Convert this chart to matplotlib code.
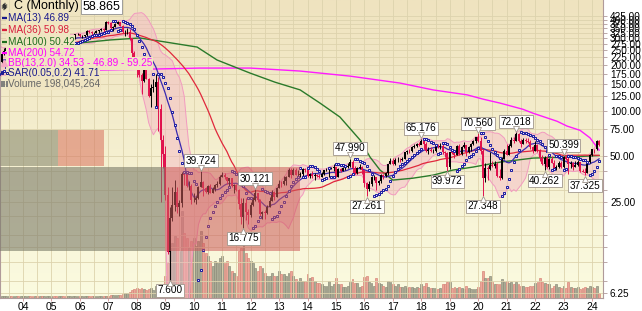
import matplotlib
matplotlib.use("Agg")
import matplotlib.pyplot as plt
import matplotlib.transforms as mtransforms
from matplotlib.colors import LinearSegmentedColormap
from matplotlib.patches import Rectangle
import numpy as np
import pandas as pd

plt.rcParams.update({
    "font.family": "Liberation Sans",
    "font.size": 7,
})

# monthly bars, first entry = Jan 2002 (extra months only feed the moving averages)
START_YEAR = 2002
close = [
    277, 264, 290, 254, 253, 228, 197, 193, 175, 218, 230, 211,  # 2002
    207, 200, 208, 237, 249, 260, 273, 265, 279, 291, 289, 299,  # 2003
    305, 311, 322, 300, 290, 292, 277, 294, 279, 281, 284, 307,  # 2004
    313, 306, 289, 303, 305, 300, 284, 286, 298, 301, 320, 321,  # 2005
    309, 309, 316, 336, 332, 326, 327, 335, 339, 344, 341, 384,  # 2006
    381, 350, 358, 375, 383, 362, 330, 333, 333, 300, 239, 212,  # 2007
    204, 173, 157, 186, 162, 125, 140, 143, 155, 103, 64, 52,  # 2008
    27.5, 11.6, 19.6, 23.6, 28.8, 23.0, 24.5, 37.8, 37.5, 31.7, 31.8, 25.6,  # 2009
    25.7, 26.3, 31.3, 33.8, 30.7, 29.1, 31.7, 28.7, 30.2, 32.3, 32.5, 36.6,  # 2010
    37.4, 36.3, 34.3, 35.6, 31.9, 32.2, 29.7, 24.0, 19.8, 24.5, 21.3, 20.4,  # 2011
    23.8, 25.8, 28.3, 25.6, 20.6, 21.3, 21.0, 23.0, 25.4, 29.0, 26.9, 30.7,  # 2012
    32.8, 32.6, 34.3, 36.3, 40.4, 37.3, 40.5, 37.5, 37.7, 37.9, 41.1, 40.5,  # 2013
    36.9, 37.8, 37.0, 37.3, 37.0, 36.6, 38.0, 40.2, 40.3, 41.6, 42.0, 42.1,  # 2014
    36.6, 40.8, 40.1, 41.5, 42.1, 43.0, 45.6, 41.7, 38.6, 41.4, 42.1, 40.4,  # 2015
    33.3, 30.4, 32.7, 36.2, 36.5, 33.2, 34.3, 37.5, 37.0, 38.6, 44.3, 46.7,  # 2016
    44.1, 47.3, 47.3, 46.8, 47.9, 53.0, 54.3, 54.0, 57.8, 58.5, 60.2, 59.4,  # 2017
    62.9, 60.5, 54.2, 54.9, 53.7, 53.9, 58.1, 57.7, 58.1, 53.2, 52.7, 42.5,  # 2018
    52.9, 52.6, 51.1, 58.2, 51.3, 57.8, 58.9, 53.4, 57.4, 59.9, 62.7, 66.9,  # 2019
    62.9, 53.8, 35.8, 41.4, 40.9, 43.8, 42.9, 44.0, 37.2, 35.8, 47.8, 53.7,  # 2020
    51.1, 58.1, 64.3, 63.0, 69.8, 62.9, 60.2, 64.1, 62.7, 62.0, 57.2, 54.4,  # 2021
    59.0, 53.8, 48.6, 44.0, 48.9, 42.2, 47.7, 45.0, 41.2, 42.6, 45.1, 42.2,  # 2022
    49.4, 48.1, 44.6, 44.8, 42.2, 43.9, 45.6, 39.6, 39.4, 38.8, 45.4, 50.8,  # 2023
    55.7, 55.3, 63.0, 58.865,  # 2024
]
high = [
    300, 282, 294, 292, 262, 255, 230, 210, 200, 225, 240, 235,
    230, 212, 215, 240, 258, 268, 280, 278, 285, 295, 293, 303,
    312, 318, 326, 322, 302, 297, 293, 296, 296, 288, 290, 309,
    316, 316, 308, 306, 310, 308, 305, 290, 300, 305, 322, 326,
    323, 316, 318, 340, 342, 337, 333, 339, 342, 352, 350, 390,
    393, 385, 364, 381, 390, 387, 370, 342, 350, 345, 302, 248,
    217, 211, 176, 198, 192, 164, 150, 162, 174, 167, 110, 69,
    58, 31, 23.2, 31, 34.8, 31, 25.5, 39.0, 38.7, 38.5, 34, 32.5,
    28.6, 27.1, 31.7, 39.72, 34.1, 31.3, 32.1, 32.5, 31.0, 32.9, 34.4, 37.5,
    39.0, 38.9, 36.4, 36.0, 35.7, 32.6, 32.9, 30.2, 26.4, 26.5, 26.4, 22.5,
    24.8, 26.8, 30.12, 28.7, 26.2, 21.7, 22.0, 23.7, 27.0, 29.9, 29.4, 31.2,
    34.7, 34.2, 37.2, 37.2, 41.6, 41.4, 41.6, 41.6, 40.2, 39.2, 41.6, 41.6,
    42.8, 38.5, 39.7, 38.7, 38.1, 38.3, 39.4, 40.5, 41.5, 41.7, 42.5, 44.2,
    42.4, 41.5, 41.6, 42.3, 42.7, 44.8, 47.99, 47.0, 42.8, 42.6, 44.0, 42.8,
    40.6, 33.6, 34.3, 36.9, 37.6, 36.6, 34.6, 38.0, 38.0, 39.1, 44.5, 48.4,
    48.6, 48.9, 49.4, 48.3, 49.5, 53.6, 55.1, 55.6, 58.2, 59.7, 61.0, 61.6,
    65.18, 63.7, 62.0, 57.3, 57.1, 55.3, 58.6, 59.7, 60.8, 60.5, 54.2, 53.3,
    53.5, 54.3, 53.4, 59.2, 59.8, 58.4, 62.2, 59.2, 58.7, 60.8, 63.7, 67.1,
    70.56, 66.7, 56.1, 45.0, 42.7, 53.1, 46.1, 46.7, 45.4, 40.9, 49.1, 55.3,
    60.2, 60.4, 67.3, 66.6, 72.02, 71.1, 64.6, 66.3, 66.3, 65.4, 63.6, 57.9,
    63.3, 60.4, 56.0, 51.1, 50.3, 50.1, 48.8, 50.3, 47.0, 43.4, 46.1, 46.1,
    50.4, 50.2, 49.3, 46.2, 45.5, 46.1, 47.0, 45.8, 41.3, 41.7, 45.6, 51.5,
    56.0, 56.1, 63.7, 63.7,
]
low = [
    268, 246, 262, 250, 240, 220, 157, 180, 170, 150, 210, 205,
    200, 190, 183, 206, 234, 247, 255, 258, 263, 272, 278, 285,
    293, 300, 303, 296, 280, 285, 268, 270, 276, 265, 277, 280,
    300, 302, 287, 284, 295, 297, 280, 278, 281, 288, 298, 315,
    306, 302, 305, 312, 324, 316, 316, 325, 328, 336, 332, 340,
    374, 346, 338, 355, 372, 360, 325, 313, 323, 293, 210, 205,
    167, 167, 128, 154, 161, 123, 105, 132, 106, 73, 25, 42,
    25.5, 11.2, 7.6, 18.6, 21.7, 20.9, 20.1, 23.2, 32.1, 31.0, 29.8, 24.0,
    24.8, 24.0, 25.9, 31.0, 27.1, 28.3, 27.9, 28.4, 28.3, 29.4, 31.0, 32.1,
    36.4, 35.3, 32.9, 31.8, 31.0, 28.3, 29.5, 22.3, 17.9, 16.775, 19.0, 17.9,
    19.9, 23.3, 25.2, 25.0, 20.2, 19.1, 19.2, 20.6, 22.9, 25.2, 25.6, 26.8,
    30.6, 31.4, 32.2, 32.0, 36.1, 35.7, 37.3, 37.4, 36.8, 36.5, 37.1, 39.2,
    36.6, 35.9, 36.0, 35.0, 36.3, 35.8, 36.4, 37.5, 40.0, 36.4, 41.2, 39.8,
    36.3, 36.4, 39.3, 39.7, 40.7, 41.7, 42.5, 38.2, 38.0, 37.8, 41.3, 38.2,
    31.3, 27.261, 29.6, 31.5, 34.8, 29.8, 32.0, 33.3, 35.3, 36.6, 37.6, 44.0,
    43.5, 43.8, 45.9, 45.6, 46.3, 47.6, 51.7, 52.3, 52.9, 56.9, 57.0, 58.3,
    59.7, 56.1, 53.4, 51.7, 53.1, 52.8, 53.6, 56.2, 55.9, 51.6, 49.6, 39.972,
    41.2, 51.5, 48.9, 50.9, 50.9, 50.9, 56.9, 49.9, 52.6, 53.8, 59.3, 61.1,
    61.9, 52.0, 27.348, 33.5, 34.6, 40.7, 42.1, 41.8, 36.4, 35.0, 35.5, 47.9,
    50.5, 50.7, 57.4, 61.2, 62.5, 61.7, 57.3, 60.0, 61.0, 61.2, 55.9, 52.2,
    54.0, 53.1, 46.6, 43.5, 40.262, 41.6, 41.3, 44.8, 40.8, 40.6, 41.5, 41.4,
    42.0, 47.4, 38.0, 42.0, 40.3, 42.4, 43.0, 39.3, 39.0, 37.325, 38.6, 44.9,
    50.0, 52.3, 54.6, 58.3,
]
volume = [  # millions of shares
    80, 80, 80, 80, 80, 80, 80, 80, 80, 80, 80, 80,
    90, 95, 100, 95, 90, 85, 80, 80, 85, 90, 85, 80,
    90, 85, 95, 90, 85, 80, 85, 80, 85, 85, 80, 85,
    85, 80, 85, 85, 80, 80, 80, 80, 80, 80, 80, 80,
    85, 85, 85, 85, 90, 85, 85, 80, 80, 85, 85, 90,
    100, 110, 120, 120, 120, 130, 170, 200, 190, 240, 320, 350,
    400, 380, 420, 350, 320, 360, 420, 340, 480, 420, 560, 520,
    900, 1400, 2100, 2200, 2500, 2400, 1900, 3500, 2600, 2400, 2000, 2300,
    2400, 2100, 2300, 2700, 2200, 1800, 1700, 1500, 1300, 1500, 1400, 1600,
    1700, 1400, 1500, 1300, 1100, 1000, 900, 1900, 2000, 2200, 1800, 1600,
    1500, 1400, 1200, 1100, 1300, 1200, 1000, 900, 900, 1000, 900, 900,
    1100, 950, 950, 900, 1000, 1100, 900, 750, 700, 800, 700, 700,
    950, 800, 850, 700, 600, 600, 550, 500, 500, 700, 500, 550,
    800, 550, 550, 450, 450, 500, 650, 750, 600, 600, 450, 500,
    850, 900, 650, 600, 500, 800, 600, 550, 500, 450, 700, 650,
    550, 500, 550, 450, 450, 500, 400, 450, 450, 400, 450, 400,
    550, 500, 600, 450, 400, 400, 400, 350, 400, 550, 550, 650,
    650, 400, 450, 400, 450, 400, 350, 500, 400, 350, 350, 350,
    450, 700, 1100, 800, 800, 900, 650, 550, 550, 550, 750, 650,
    700, 600, 650, 550, 650, 550, 500, 500, 450, 450, 500, 500,
    600, 650, 800, 650, 600, 550, 550, 400, 500, 550, 450, 400,
    500, 400, 650, 450, 400, 400, 450, 350, 400, 450, 400, 500,
    450, 400, 500, 198,
]

# long moving averages (need history before the bars above)
ma100_t = [2006.0, 2007.06, 2008.11, 2009.06, 2010.12, 2010.82, 2011.98, 2012.86,
           2013.74, 2014.44, 2015.14, 2015.85, 2016.2, 2016.55, 2017.0, 2017.7,
           2018.41, 2019.11, 2019.82, 2020.77, 2021.93, 2023.12, 2024.25]
ma100_v = [280, 293, 302, 283, 263, 216, 177, 154, 137, 112, 90.6, 63.8, 49.2,
           40.4, 34.7, 35.7, 37.4, 40.4, 42.3, 45.6, 48.5, 49.2, 50.42]
ma200_t = [2006.5, 2008.46, 2010.22, 2011.98, 2013.74, 2015.49, 2017.25, 2018.41,
           2019.61, 2020.17, 2020.77, 2021.57, 2021.93, 2022.77, 2023.12, 2023.58,
           2023.93, 2024.25]
ma200_v = [185, 188, 191, 191, 182.5, 169, 152, 137, 127, 119, 112, 102, 96, 85,
           79, 74, 66, 54.72]

swing_month = ["2009-03", "2010-04", "2011-10", "2012-03", "2015-07", "2016-02",
               "2018-01", "2018-12", "2020-01", "2020-03", "2021-05", "2022-05",
               "2023-01", "2023-10"]
swing_value = [7.600, 39.724, 16.775, 30.121, 47.990, 27.261, 65.176, 39.972,
               70.560, 27.348, 72.018, 40.262, 50.399, 37.325]
swing_is_high = [False, True, False, True, True, False, True, False, True, False,
                 True, False, True, False]

price_ticks = [6.25, 25, 50, 75, 100, 125, 150, 175, 200, 225, 250, 275, 300,
               325, 350, 375, 400, 425]
minor_ticks = [7.5, 10, 12.5, 15, 20, 30, 40]
years = list(range(2004, 2025))

legend_rows = [
    ("MA(13) 46.89", "#1a1a8c"),
    ("MA(36) 50.98", "#d81e3c"),
    ("MA(100) 50.42", "#1e6e1e"),
    ("MA(200) 54.72", "#ff00ff"),
    ("BB(13,2.0) 34.53 - 46.89 - 59.25", "#ff00ff"),
    ("SAR(0.05,0.2) 41.71", "#1a1a8c"),
    ("Volume 198,045,264", "#666666"),
]

RED = "#e0104c"
W, H = 642, 311
AX_W, AX_H = 603, 298


def psar(hi, lo, step=0.05, amax=0.2):
    n = len(hi)
    out = np.zeros(n)
    up = True
    af = step
    ep = hi[0]
    out[0] = lo[0]
    for i in range(1, n):
        s = out[i - 1] + af * (ep - out[i - 1])
        if up:
            s = min(s, lo[i - 1], lo[max(i - 2, 0)])
            if lo[i] < s:
                up, s, ep, af = False, ep, lo[i], step
            elif hi[i] > ep:
                ep, af = hi[i], min(af + step, amax)
        else:
            s = max(s, hi[i - 1], hi[max(i - 2, 0)])
            if hi[i] > s:
                up, s, ep, af = True, ep, hi[i], step
            elif lo[i] < ep:
                ep, af = lo[i], min(af + step, amax)
        out[i] = s
    return out


def frac(px, py):
    return px / AX_W, 1 - py / AX_H


def main():
    c = np.array(close, dtype=float)
    h = np.array(high, dtype=float)
    l = np.array(low, dtype=float)
    o = np.r_[c[0], c[:-1]]
    t = START_YEAR + np.arange(len(c)) / 12
    down = c < o

    s = pd.Series(c)
    ma13 = s.rolling(13).mean()
    ma36 = s.rolling(36, min_periods=24).mean()
    sd = s.rolling(13).std(ddof=0)
    bb_hi, bb_lo = ma13 + 2 * sd, ma13 - 2 * sd
    sar = psar(h, l)

    fig = plt.figure(figsize=(W / 100, H / 100), dpi=100)
    rect = [0, (H - AX_H) / H, AX_W / W, AX_H / H]

    bg = fig.add_axes(rect, zorder=0)
    cmap = LinearSegmentedColormap.from_list("bg", ["#efe3bf", "#fbfbe0"])
    bg.imshow(np.linspace(0, 1, 256).reshape(-1, 1), cmap=cmap, aspect="auto",
              extent=(0, 1, 0, 1))
    bg.set_axis_off()

    axv = fig.add_axes(rect, zorder=1)
    axv.patch.set_visible(False)
    ax = fig.add_axes(rect, zorder=2)
    ax.patch.set_visible(False)

    # volume
    vcol = np.where(down, "#eba699", "#abab95")
    vedge = np.where(down, "#d8877a", "#8e8e7c")
    axv.bar(t, volume, width=0.8 / 12, color=vcol, edgecolor=vedge, linewidth=0.5)
    axv.set_ylim(0, AX_H * 40)
    axv.set_xlim(2004 - 23 / 28.45, 2004 + 580 / 28.45)
    axv.set_axis_off()

    ax.set_yscale("log")
    # grid
    for v in price_ticks + minor_ticks:
        ax.axhline(v, color="#ddd3ad", lw=0.6, zorder=0)
    for yr in range(2003, 2025):
        for half in (0, 0.5):
            ax.axvline(yr + half, color="#ddd3ad", lw=0.6, zorder=0)

    # bollinger band
    ax.fill_between(t, bb_lo, bb_hi, color="#f4b4c4", alpha=0.45, lw=0, zorder=1)
    ax.plot(t, bb_hi, color="#f29ac0", lw=0.7, zorder=1)
    ax.plot(t, bb_lo, color="#f29ac0", lw=0.7, zorder=1)

    ax.plot(ma200_t, ma200_v, color="#ff1aff", lw=1.0, zorder=2)
    ax.plot(ma100_t, ma100_v, color="#2a7a2a", lw=1.0, zorder=2)
    ax.plot(t, ma36, color="#e0283c", lw=0.9, zorder=2)
    ax.plot(t, ma13, color="#3a2ab0", lw=0.9, zorder=2)

    # candles
    col = np.where(down, RED, "#000000")
    ax.vlines(t, l, h, colors=col, lw=0.7, zorder=4)
    ax.vlines(t, np.minimum(o, c), np.maximum(o, c), colors=col, lw=1.4, zorder=4)

    ax.plot(t, sar, ls="none", marker="s", ms=2.1, mec="#1a1aa0", mfc="#e4e4fa",
            mew=0.7, zorder=5)

    # translucent blocks
    blocks = [
        ((0, 130), (58, 166), "#8a8a70", 0.6),
        ((58, 130), (104, 166), "#d8705c", 0.55),
        ((0, 167), (165, 251), "#7a7a68", 0.6),
        ((165, 167), (300, 251), "#cc5a5a", 0.55),
    ]
    for (x0, y0), (x1, y1), fc, a in blocks:
        fx0, fy1 = frac(x0, y0)
        fx1, fy0 = frac(x1, y1)
        ax.add_patch(Rectangle((fx0, fy0), fx1 - fx0, fy1 - fy0, transform=ax.transAxes,
                               fc=fc, alpha=a, ec="none", zorder=6))

    # swing labels
    for m, v, hi_ in zip(swing_month, swing_value, swing_is_high):
        yy, mm = m.split("-")
        x = int(yy) + (int(mm) - 1) / 12
        dy = 7.5 if hi_ else -7.5
        ax.annotate(f"{v:.3f}", xy=(x, v), xytext=(0, dy), textcoords="offset points",
                    ha="center", va="center", fontsize=7.2, zorder=8,
                    bbox=dict(boxstyle="square,pad=0.15", fc="white", ec="#a0968c", lw=0.6))
        tr = mtransforms.offset_copy(ax.transData, fig=fig, y=(2.6 if hi_ else -2.6), units="points")
        ax.plot(x, v, marker="v" if hi_ else "^", ms=4, mfc="white", mec="#a0968c",
                mew=0.6, transform=tr, zorder=9, clip_on=False)

    # legend block
    bgc = "#f0e5c2"
    fx, fy = frac(2, 6)
    ax.plot([fx + 0.004], [fy], transform=ax.transAxes, marker="$\u2591$", ms=5, color="#333333", zorder=10)
    head = ax.text(*frac(14, 6.5), "C (Monthly)", transform=ax.transAxes, fontsize=9,
                   va="center", ha="left", zorder=10,
                   bbox=dict(boxstyle="square,pad=0.1", fc=bgc, ec="none"))
    ax.annotate("58.865", xy=(1, 0.5), xycoords=head, xytext=(3, 0), textcoords="offset points",
                fontsize=9, va="center", ha="left", zorder=10,
                bbox=dict(boxstyle="square,pad=0.12", fc="white", ec="#909090", lw=0.6))
    row_y = [18.3, 30, 41.7, 52.7, 63.3, 73, 83.5]
    for i, ((txt, color), py) in enumerate(zip(legend_rows, row_y)):
        ax.text(*frac(7.5, py), txt, transform=ax.transAxes, color=color, fontsize=7.2,
                va="center", ha="left", zorder=10,
                bbox=dict(boxstyle="square,pad=0.12", fc=bgc, ec="none"))
        ix, iy = frac(1.5, py)
        ix2, _ = frac(6.5, py)
        if i < 4:
            ax.plot([ix, ix2], [iy, iy], transform=ax.transAxes, color=color, lw=1.6,
                    zorder=11, solid_capstyle="butt")
        elif i == 4:
            ax.plot([(ix + ix2) / 2], [iy], transform=ax.transAxes, marker="^", ms=5,
                    color="#f7a8c4", zorder=11)
        elif i == 5:
            ax.plot([ix, ix2], [iy, iy], transform=ax.transAxes, ls="none", marker="s",
                    ms=2, mec=color, mfc="none", mew=0.7, zorder=11)
        else:
            ax.plot([ix, (ix + ix2) / 2, ix2], [iy, iy, iy], transform=ax.transAxes,
                    ls="none", marker="|", ms=5, mew=1.3, color="#777777", zorder=11)

    # axes
    ax.set_xlim(2004 - 23 / 28.45, 2004 + 580 / 28.45)
    ax.set_ylim(5.76, 538.5)
    ax.yaxis.tick_right()
    ax.set_yticks(price_ticks)
    ax.set_yticklabels([f"{v:.2f}" for v in price_ticks], fontsize=7.2)
    ax.set_yticks(minor_ticks, minor=True)
    ax.yaxis.set_minor_formatter(plt.NullFormatter())
    ax.tick_params(axis="y", which="both", direction="out", length=3, width=0.6,
                   color="#b09a9a", pad=2, right=True, left=False)
    ax.set_xticks(years)
    ax.set_xticklabels([f"{y % 100:02d}" for y in years], fontsize=7.5)
    ax.tick_params(axis="x", direction="out", length=2, width=0.6, color="#d09090", pad=1)
    ax.spines["top"].set_visible(False)
    for side in ("left", "right", "bottom"):
        ax.spines[side].set_color("#b09a9a")
        ax.spines[side].set_linewidth(0.8)

    fig.savefig("out.png", dpi=100)
    plt.close(fig)


if __name__ == "__main__":
    main()
